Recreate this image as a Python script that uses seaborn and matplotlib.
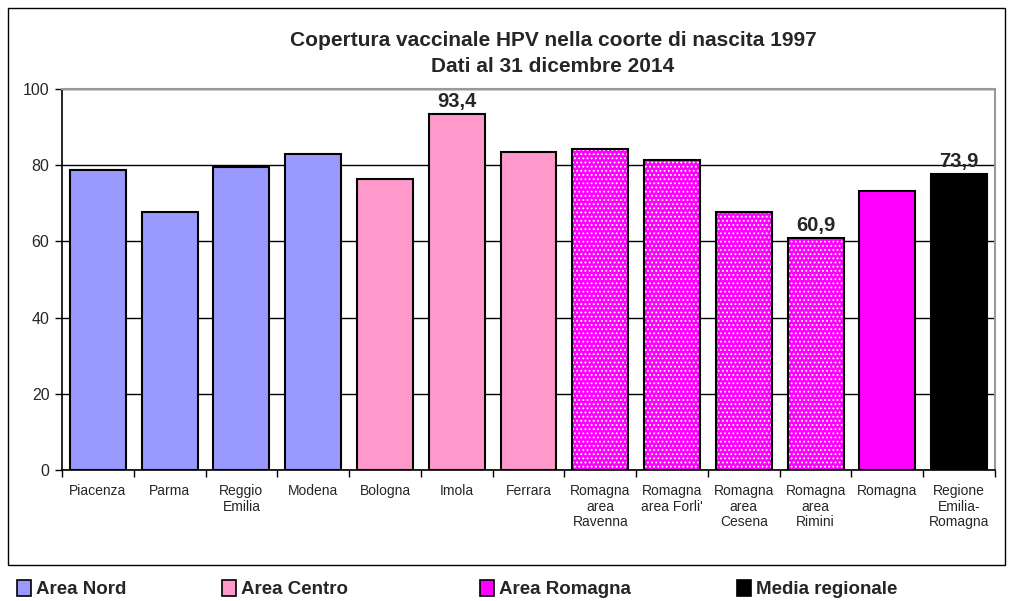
import numpy as np
import pandas as pd
import matplotlib
matplotlib.use("Agg")
import matplotlib.pyplot as plt
from matplotlib.patches import Rectangle, Patch
import seaborn as sns

sns.set_style("white")
plt.rcParams["font.family"] = ["Liberation Sans", "DejaVu Sans"]
plt.rcParams["hatch.linewidth"] = 0.8

# data
categories = ["Piacenza", "Parma", "Reggio\nEmilia", "Modena", "Bologna", "Imola",
              "Ferrara", "Romagna\narea\nRavenna", "Romagna\narea Forli'",
              "Romagna\narea\nCesena", "Romagna\narea\nRimini", "Romagna",
              "Regione\nEmilia-\nRomagna"]
values = [78.7, 67.7, 79.5, 82.9, 76.4, 93.4, 83.5, 84.3, 81.4, 67.7, 60.9, 73.2, 77.7]
groups = ["Nord"] * 4 + ["Centro"] * 3 + ["Romagna_az"] * 4 + ["Romagna", "Media"]
value_labels = {5: "93,4", 10: "60,9", 12: "73,9"}
legend_names = ["Area Nord", "Area Centro", "Area Romagna", "Media regionale"]

group_colors = {"Nord": "#9999FF", "Centro": "#FF99CC", "Romagna_az": "#FF00FF",
                "Romagna": "#FF00FF", "Media": "#000000"}
df = pd.DataFrame({"cat": categories, "val": values, "grp": groups})
palette = [group_colors[g] for g in groups]

fig = plt.figure(figsize=(10.14, 6.01), dpi=100)
ax = fig.add_axes([62 / 1014, 1 - 470 / 601, 933 / 1014, 381 / 601])

sns.barplot(data=df, x="cat", y="val", hue="cat", palette=palette, legend=False,
            width=0.78, saturation=1, edgecolor="black", linewidth=1.5, ax=ax, zorder=3)

# dotted texture on the Romagna district bars
for p, g in zip(ax.patches, groups):
    if g == "Romagna_az":
        p.set_hatch("....")
        p.set_edgecolor("white")
        p.set_linewidth(0)
        ax.add_patch(Rectangle(p.get_xy(), p.get_width(), p.get_height(), fill=False,
                               ec="black", lw=1.5, zorder=4))

for i, txt in value_labels.items():
    ax.text(i, values[i] + 0.8, txt, ha="center", va="bottom", fontsize=14.5,
            fontweight="bold", zorder=5)

ax.set_ylim(0, 100)
ax.set_xlim(-0.5, len(categories) - 0.5)
ax.set_yticks(range(0, 101, 20))
ax.yaxis.grid(True, color="black", linewidth=1, zorder=0)
ax.set_axisbelow(True)
ax.tick_params(axis="y", labelsize=11.5, length=5, width=1, color="black", pad=4, left=True)
ax.set_xticks(np.arange(len(categories)))
ax.set_xticklabels(categories, fontsize=10, linespacing=1.15, va="top")
ax.tick_params(axis="x", length=0, pad=10)
ax.set_xticks(np.arange(len(categories) + 1) - 0.5, minor=True)
ax.tick_params(axis="x", which="minor", length=5, width=1, color="black", bottom=True)
ax.set_xlabel("")
ax.set_ylabel("")
for s in ["top", "right"]:
    ax.spines[s].set_color("#999999")
    ax.spines[s].set_linewidth(1.5)
for s in ["left", "bottom"]:
    ax.spines[s].set_color("black")
    ax.spines[s].set_linewidth(1.2)

fig.text(553 / 1014, 1 - 40 / 601, "Copertura vaccinale HPV nella coorte di nascita 1997",
         ha="center", va="center", fontsize=15, fontweight="bold")
fig.text(553 / 1014, 1 - 67 / 601, "Dati al 31 dicembre 2014",
         ha="center", va="center", fontsize=15, fontweight="bold")

# outer chart frame
fig.patches.append(Rectangle((8 / 1014, 1 - 565 / 601), 997 / 1014, 557 / 601,
                             transform=fig.transFigure, fill=False, ec="black", lw=1))

legend_colors = ["#9999FF", "#FF99CC", "#FF00FF", "#000000"]
legend_x = [17, 222, 480, 737]
for name, col, x in zip(legend_names, legend_colors, legend_x):
    h = Patch(facecolor=col, edgecolor="black", linewidth=1.2, label=name)
    leg = fig.legend(handles=[h], loc="center left", bbox_to_anchor=(x / 1014, 1 - 589 / 601),
                     frameon=False, handlelength=0.75, handleheight=0.95, handletextpad=0.25,
                     borderaxespad=0, borderpad=0,
                     prop={"size": 13.5, "weight": "bold"})

fig.savefig("out.png", dpi=100)
